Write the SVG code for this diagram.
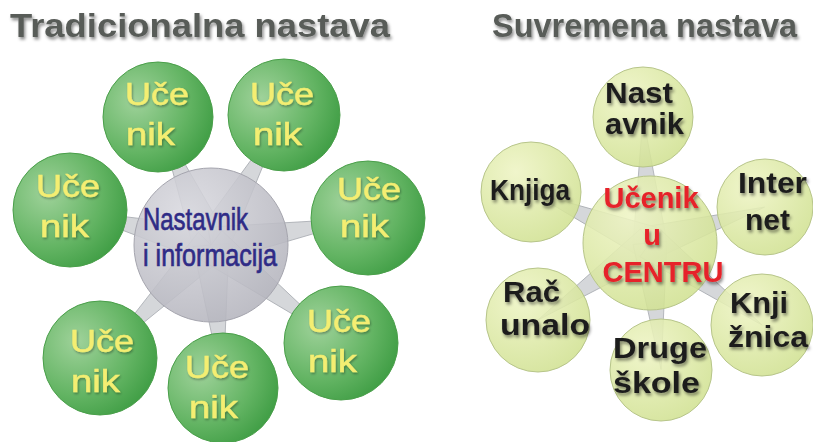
<svg xmlns="http://www.w3.org/2000/svg" width="813" height="442" viewBox="0 0 813 442">
<defs>
<filter id="sh" x="-20%" y="-20%" width="140%" height="160%"><feDropShadow dx="1.5" dy="2.5" stdDeviation="1.6" flood-color="#000" flood-opacity="0.45"/></filter>
<filter id="shs" x="-20%" y="-20%" width="140%" height="160%"><feDropShadow dx="1" dy="1.5" stdDeviation="1" flood-color="#000" flood-opacity="0.35"/></filter>
<radialGradient id="gGreen" cx="0.3" cy="0.35" r="0.8"><stop offset="0" stop-color="#9fd29a"/><stop offset="0.6" stop-color="#63b463"/><stop offset="1" stop-color="#3a9a40"/></radialGradient>
<radialGradient id="gGray" cx="0.35" cy="0.3" r="0.8"><stop offset="0" stop-color="#dadae0"/><stop offset="1" stop-color="#b2b2bb"/></radialGradient>
<radialGradient id="gLight" cx="0.35" cy="0.3" r="0.8"><stop offset="0" stop-color="#eef4c4"/><stop offset="1" stop-color="#cfe08f"/></radialGradient>
</defs>
<style>
.title{font-family:"Liberation Sans",Arial,sans-serif;font-weight:bold;font-size:34px;fill:#585c58}
.wedge{fill:#c7cace;fill-opacity:0.75;stroke:#a9acb2;stroke-width:0.8}
.green{fill:url(#gGreen);stroke:#4a9f4a;stroke-width:1}
.gray{fill:url(#gGray);fill-opacity:0.88;stroke:#a5a5ae;stroke-width:1}
.light{fill:url(#gLight);fill-opacity:0.88;stroke:#b7c58a;stroke-width:1}
.uc{font-family:"Liberation Sans",Arial,sans-serif;font-size:32px;fill:#f4ee72;stroke:#f4ee72;stroke-width:0.5;filter:url(#shs)}
.nav{font-family:"Liberation Sans",Arial,sans-serif;font-size:32px;fill:#2f2b86;stroke:#2f2b86;stroke-width:0.7}
.blk{font-family:"Liberation Sans",Arial,sans-serif;font-weight:bold;font-size:30px;fill:#1e1e1e;filter:url(#sh)}
.red{font-family:"Liberation Sans",Arial,sans-serif;font-weight:bold;font-size:29px;fill:#e62229;text-anchor:middle}
</style>
<text class="title" x="10" y="37" textLength="380" lengthAdjust="spacingAndGlyphs" filter="url(#sh)">Tradicionalna nastava</text>
<text class="title" x="492" y="37" textLength="305" lengthAdjust="spacingAndGlyphs" filter="url(#sh)">Suvremena nastava</text>

<g id="connectors">
<g transform="translate(211,245)">
<polygon class="wedge" points="0,-18 138,0 0,18" transform="rotate(-112.5)"/>
<polygon class="wedge" points="0,-18 149,0 0,18" transform="rotate(-60.7)"/>
<polygon class="wedge" points="0,-18 145,0 0,18" transform="rotate(-166.1)"/>
<polygon class="wedge" points="0,-18 159,0 0,18" transform="rotate(-9.8)"/>
<polygon class="wedge" points="0,-18 158,0 0,18" transform="rotate(134.5)"/>
<polygon class="wedge" points="0,-18 143,0 0,18" transform="rotate(85.2)"/>
<polygon class="wedge" points="0,-18 162,0 0,18" transform="rotate(37)"/>
</g>
<g transform="translate(650,243)">
<polygon class="wedge" points="0,-17 126,0 0,17" transform="rotate(-93.2)"/>
<polygon class="wedge" points="0,-17 120,0 0,17" transform="rotate(-17.4)"/>
<polygon class="wedge" points="0,-17 129,0 0,17" transform="rotate(-156.8)"/>
<polygon class="wedge" points="0,-17 136,0 0,17" transform="rotate(145.5)"/>
<polygon class="wedge" points="0,-17 127,0 0,17" transform="rotate(85)"/>
<polygon class="wedge" points="0,-17 139,0 0,17" transform="rotate(36.2)"/>
</g>
</g>

<g id="center-left">
<circle class="gray" cx="211" cy="245" r="77"/>
<text class="nav" x="143" y="230" textLength="105" lengthAdjust="spacingAndGlyphs">Nastavnik</text>
<text class="nav" x="143" y="266" textLength="134" lengthAdjust="spacingAndGlyphs">i informacija</text>
</g>
<g id="ucenik-1"><circle class="green" cx="158" cy="117" r="55"/><text class="uc" x="125" y="105" textLength="64" lengthAdjust="spacingAndGlyphs">Uče</text><text class="uc" x="126" y="145" textLength="49" lengthAdjust="spacingAndGlyphs">nik</text></g>
<g id="ucenik-2"><circle class="green" cx="284" cy="115" r="56"/><text class="uc" x="250" y="105" textLength="64" lengthAdjust="spacingAndGlyphs">Uče</text><text class="uc" x="253" y="145" textLength="49" lengthAdjust="spacingAndGlyphs">nik</text></g>
<g id="ucenik-3"><circle class="green" cx="70" cy="210" r="57"/><text class="uc" x="36" y="197" textLength="64" lengthAdjust="spacingAndGlyphs">Uče</text><text class="uc" x="40" y="237" textLength="49" lengthAdjust="spacingAndGlyphs">nik</text></g>
<g id="ucenik-4"><circle class="green" cx="368" cy="218" r="57"/><text class="uc" x="337" y="200" textLength="64" lengthAdjust="spacingAndGlyphs">Uče</text><text class="uc" x="340" y="237" textLength="49" lengthAdjust="spacingAndGlyphs">nik</text></g>
<g id="ucenik-5"><circle class="green" cx="100" cy="358" r="57"/><text class="uc" x="70" y="352" textLength="64" lengthAdjust="spacingAndGlyphs">Uče</text><text class="uc" x="71" y="392" textLength="49" lengthAdjust="spacingAndGlyphs">nik</text></g>
<g id="ucenik-6"><circle class="green" cx="223" cy="388" r="55"/><text class="uc" x="185" y="378" textLength="64" lengthAdjust="spacingAndGlyphs">Uče</text><text class="uc" x="189" y="418" textLength="49" lengthAdjust="spacingAndGlyphs">nik</text></g>
<g id="ucenik-7"><circle class="green" cx="341" cy="343" r="57"/><text class="uc" x="307" y="332" textLength="64" lengthAdjust="spacingAndGlyphs">Uče</text><text class="uc" x="308" y="372" textLength="49" lengthAdjust="spacingAndGlyphs">nik</text></g>

<g id="center-right">
<circle class="light" cx="650" cy="243" r="67"/>
<text class="red" x="651" y="208" filter="url(#sh)">Učenik</text>
<text class="red" x="652" y="245" filter="url(#sh)">u</text>
<text class="red" x="663" y="282" filter="url(#sh)">CENTRU</text>
</g>
<g id="nastavnik"><circle class="light" cx="643" cy="117" r="50"/><text class="blk" x="605" y="103" textLength="68" lengthAdjust="spacingAndGlyphs">Nast</text><text class="blk" x="605" y="134" textLength="79" lengthAdjust="spacingAndGlyphs">avnik</text></g>
<g id="internet"><circle class="light" cx="765" cy="207" r="48"/><text class="blk" x="738" y="193" textLength="69" lengthAdjust="spacingAndGlyphs">Inter</text><text class="blk" x="745" y="230" textLength="45" lengthAdjust="spacingAndGlyphs">net</text></g>
<g id="knjiga"><circle class="light" cx="531" cy="192" r="50"/><text class="blk" x="490" y="200" font-size="26" textLength="80" lengthAdjust="spacingAndGlyphs">Knjiga</text></g>
<g id="racunalo"><circle class="light" cx="538" cy="320" r="52"/><text class="blk" x="503" y="302" textLength="57" lengthAdjust="spacingAndGlyphs">Rač</text><text class="blk" x="500" y="335" textLength="90" lengthAdjust="spacingAndGlyphs">unalo</text></g>
<g id="druge"><circle class="light" cx="661" cy="370" r="51"/><text class="blk" x="613" y="358" textLength="94" lengthAdjust="spacingAndGlyphs">Druge</text><text class="blk" x="613" y="393" textLength="87" lengthAdjust="spacingAndGlyphs">škole</text></g>
<g id="knjiznica"><circle class="light" cx="762" cy="325" r="51"/><text class="blk" x="730" y="313" textLength="58" lengthAdjust="spacingAndGlyphs">Knji</text><text class="blk" x="728" y="347" textLength="80" lengthAdjust="spacingAndGlyphs">žnica</text></g>
</svg>
